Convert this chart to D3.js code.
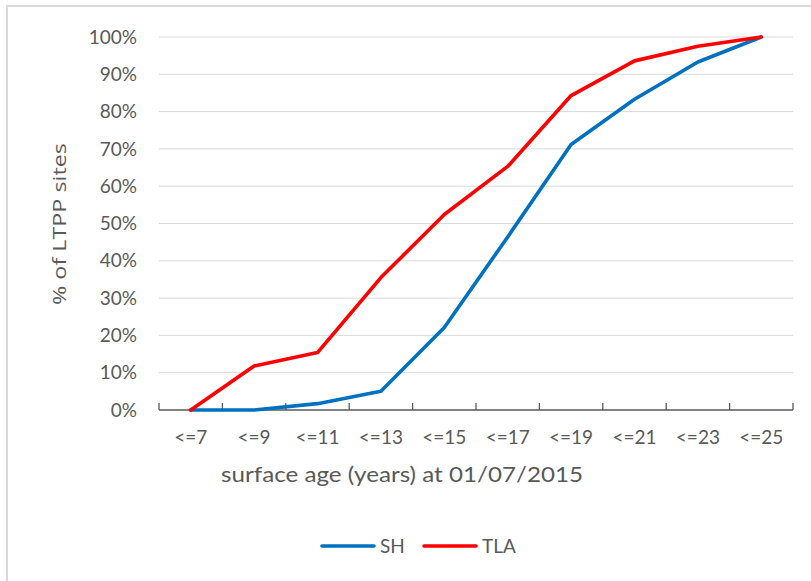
<!DOCTYPE html>
<html>
<head>
<meta charset="utf-8">
<script src="https://cdn.jsdelivr.net/npm/d3@7"></script>
<style>
  body { margin: 0; background: #fff; }
  svg { display: block; }
</style>
</head>
<body>
<div id="chart"></div>
<script>
// categories on x
var categories = ["<=7", "<=9", "<=11", "<=13", "<=15", "<=17", "<=19", "<=21", "<=23", "<=25"];
// cumulative % of sites
var shValues = [0, 0, 1.7, 5.0, 22.1, 46.4, 71.2, 83.3, 93.3, 100];
var tlaValues = [0, 11.8, 15.4, 35.5, 52.4, 65.3, 84.3, 93.6, 97.5, 100];
var yTicks = [0, 10, 20, 30, 40, 50, 60, 70, 80, 90, 100];
var seriesNames = ["SH", "TLA"];
var seriesColors = ["#0070C0", "#FF0000"];

var width = 811, height = 581;
var plotLeft = 159, plotRight = 793, plotTop = 37, plotBottom = 410;

var svg = d3.select("#chart").append("svg")
  .attr("width", width)
  .attr("height", height);

// chart area frame (top + left edges visible)
svg.append("rect")
  .attr("x", 7).attr("y", 6)
  .attr("width", 820).attr("height", 600)
  .attr("fill", "#fff")
  .attr("stroke", "#d9d9d9")
  .attr("stroke-width", 2);

var x = d3.scaleBand().domain(categories).range([plotLeft, plotRight]);
var y = d3.scaleLinear().domain([0, 100]).range([plotBottom, plotTop]);
var cx = function (c) { return x(c) + x.bandwidth() / 2; };

// gridlines
svg.append("g")
  .selectAll("line")
  .data(yTicks.filter(function (d) { return d > 0; }))
  .enter()
  .append("line")
  .attr("x1", plotLeft).attr("x2", plotRight)
  .attr("y1", function (d) { return y(d); })
  .attr("y2", function (d) { return y(d); })
  .attr("stroke", "#d9d9d9")
  .attr("stroke-width", 1);

// y labels
svg.append("g")
  .selectAll("text")
  .data(yTicks)
  .enter()
  .append("text")
  .attr("x", 137)
  .attr("y", function (d) { return y(d); })
  .attr("dy", "0.35em")
  .attr("text-anchor", "end")
  .attr("fill", "#595959")
  .style("font-family", "Lato, sans-serif")
  .style("font-size", "19px")
  .text(function (d) { return d + "%"; });

// x axis line with inside ticks
svg.append("line")
  .attr("x1", plotLeft).attr("x2", plotRight)
  .attr("y1", plotBottom).attr("y2", plotBottom)
  .attr("stroke", "#595959")
  .attr("stroke-width", 1.3);

var tickPos = categories.map(function (c) { return x(c); }).concat([plotRight]);
svg.append("g")
  .selectAll("line")
  .data(tickPos)
  .enter()
  .append("line")
  .attr("x1", function (d) { return d; })
  .attr("x2", function (d) { return d; })
  .attr("y1", plotBottom).attr("y2", plotBottom - 7)
  .attr("stroke", "#595959")
  .attr("stroke-width", 1.3);

// x labels
svg.append("g")
  .selectAll("text")
  .data(categories)
  .enter()
  .append("text")
  .attr("x", function (d) { return cx(d); })
  .attr("y", 444)
  .attr("text-anchor", "middle")
  .attr("fill", "#595959")
  .style("font-family", "Lato, sans-serif")
  .style("font-size", "19px")
  .text(function (d) { return d; });

// axis titles
svg.append("text")
  .attr("x", 402)
  .attr("y", 482)
  .attr("text-anchor", "middle")
  .attr("fill", "#595959")
  .style("font-family", "Lato, sans-serif")
  .style("font-size", "22px")
  .attr("textLength", 362)
  .attr("lengthAdjust", "spacingAndGlyphs")
  .text("surface age (years) at 01/07/2015");

svg.append("text")
  .attr("transform", "translate(66,224) rotate(-90)")
  .attr("text-anchor", "middle")
  .attr("fill", "#595959")
  .style("font-family", "'Open Sans', sans-serif")
  .style("font-size", "19px")
  .attr("textLength", 162)
  .attr("lengthAdjust", "spacingAndGlyphs")
  .text("% of LTPP sites");

// lines
var line = d3.line()
  .x(function (d, i) { return cx(categories[i]); })
  .y(function (d) { return y(d); });

var allSeries = [shValues, tlaValues];
svg.append("g")
  .selectAll("path")
  .data(allSeries)
  .enter()
  .append("path")
  .attr("d", line)
  .attr("fill", "none")
  .attr("stroke", function (d, i) { return seriesColors[i]; })
  .attr("stroke-width", 3.6)
  .attr("stroke-linejoin", "round")
  .attr("stroke-linecap", "round");

// legend
var legendX = [322, 424];
var legend = svg.append("g")
  .selectAll("g")
  .data(seriesNames)
  .enter()
  .append("g")
  .attr("transform", function (d, i) { return "translate(" + legendX[i] + ",546)"; });

legend.append("line")
  .attr("x1", 0).attr("x2", 52)
  .attr("stroke", function (d, i) { return seriesColors[i]; })
  .attr("stroke-width", 3.6)
  .attr("stroke-linecap", "round");

legend.append("text")
  .attr("x", 58)
  .attr("dy", "0.35em")
  .attr("fill", "#595959")
  .style("font-family", "Lato, sans-serif")
  .style("font-size", "19px")
  .text(function (d) { return d; });
</script>
</body>
</html>
